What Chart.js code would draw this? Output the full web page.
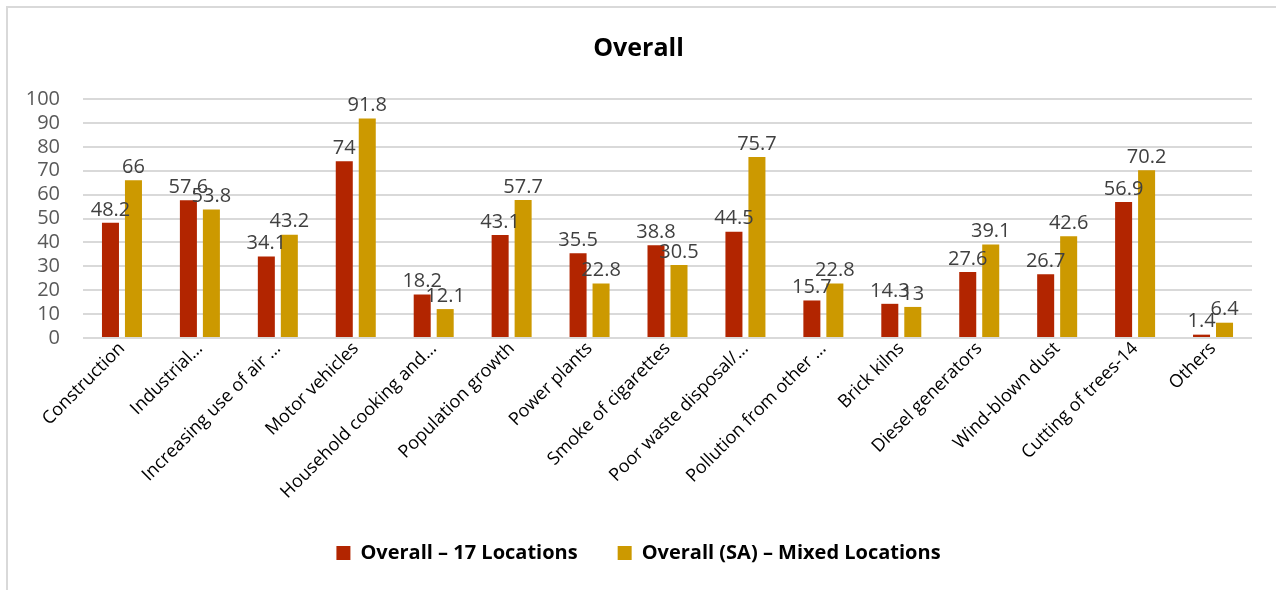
<!DOCTYPE html>
<html>
<head>
<meta charset="utf-8">
<script src="https://cdn.jsdelivr.net/npm/chart.js@4"></script>
<style>
  html, body { margin: 0; padding: 0; background: #fff; }
  #box {
    position: absolute; left: 6px; top: 6px;
    width: 1280px; height: 600px;
    border-left: 2px solid #d9d9d9; border-top: 2px solid #d9d9d9;
  }
  #wrap { position: absolute; left: 8px; top: 8px; width: 1268px; height: 582px; }
</style>
</head>
<body>
<div id="box"></div>
<div id="wrap"><canvas id="myChart"></canvas></div>
<script>
// categories (truncated like the original)
const labels = [
  'Construction',
  'Industrial…',
  'Increasing use of air …',
  'Motor vehicles',
  'Household cooking and…',
  'Population growth',
  'Power plants',
  'Smoke of cigarettes',
  'Poor waste disposal/…',
  'Pollution from other …',
  'Brick kilns',
  'Diesel generators',
  'Wind-blown dust',
  'Cutting of trees-14',
  'Others'
];
const overall17 = [48.2, 57.6, 34.1, 74, 18.2, 43.1, 35.5, 38.8, 44.5, 15.7, 14.3, 27.6, 26.7, 56.9, 1.4];
const overallSA = [66, 53.8, 43.2, 91.8, 12.1, 57.7, 22.8, 30.5, 75.7, 22.8, 13, 39.1, 42.6, 70.2, 6.4];

const fontFam = "'Open Sans', 'Noto Sans', sans-serif";

// draws the value above each bar
const valueLabels = {
  id: 'valueLabels',
  afterDatasetsDraw(chart) {
    const ctx = chart.ctx;
    ctx.save();
    ctx.font = '20px ' + fontFam;
    ctx.fillStyle = '#404040';
    ctx.textAlign = 'center';
    ctx.textBaseline = 'bottom';
    chart.data.datasets.forEach((ds, i) => {
      chart.getDatasetMeta(i).data.forEach((bar, j) => {
        ctx.fillText(String(ds.data[j]), bar.x, bar.y - 3);
      });
    });
    ctx.restore();
  }
};

const config = {
  type: 'bar',
  data: {
    labels: labels,
    datasets: [{
      label: 'Overall – 17 Locations',
      data: overall17,
      backgroundColor: '#b22500',
      categoryPercentage: 0.59,
      barPercentage: 0.74
    }, {
      label: 'Overall (SA) – Mixed Locations',
      data: overallSA,
      backgroundColor: '#cc9900',
      categoryPercentage: 0.59,
      barPercentage: 0.74
    }]
  },
  options: {
    responsive: true,
    maintainAspectRatio: false,
    animation: false,
    layout: { padding: { left: 17, right: 24, top: 8, bottom: 17 } },
    plugins: {
      title: {
        display: true,
        text: 'Overall',
        color: '#000',
        font: { family: fontFam, size: 25, weight: 'bold' },
        padding: { top: 18, bottom: 35 }
      },
      legend: {
        position: 'bottom',
        labels: {
          color: '#000',
          font: { family: fontFam, size: 20, weight: 'bold' },
          boxWidth: 14,
          boxHeight: 14,
          padding: 40
        }
      },
      tooltip: { enabled: false }
    },
    scales: {
      x: {
        clip: false,
        grid: { display: false },
        border: { display: false },
        ticks: {
          color: '#000',
          font: { family: fontFam, size: 18 },
          minRotation: 45,
          maxRotation: 45,
          autoSkip: false,
          padding: -8
        },
        afterFit(scale) {
          scale.height = 165;
          scale.paddingLeft = 0;
          scale.paddingRight = 0;
        }
      },
      y: {
        min: 0,
        max: 100,
        ticks: {
          stepSize: 10,
          autoSkip: false,
          color: '#595959',
          font: { family: fontFam, size: 20 },
          padding: 23
        },
        grid: { color: '#d9d9d9', lineWidth: 2, drawTicks: false },
        border: { display: false },
        afterFit(scale) { scale.width = 58; }
      }
    }
  },
  plugins: [valueLabels]
};

var myChart = new Chart(document.getElementById('myChart'), config);
</script>
</body>
</html>
